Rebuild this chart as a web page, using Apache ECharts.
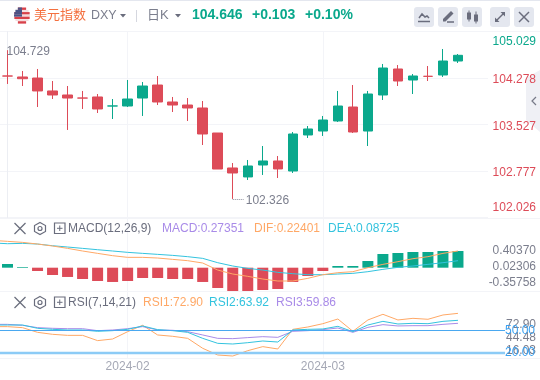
<!DOCTYPE html>
<html>
<head>
<meta charset="utf-8">
<style>
  html, body { margin: 0; padding: 0; background: #fff; }
  #chart { width: 540px; height: 380px; }
</style>
<script src="https://cdn.jsdelivr.net/npm/echarts@6/dist/echarts.min.js"></script>
</head>
<body>
<div id="chart"></div>
<script>
// open, close, low, high
var candles = [
  [104.312, 104.311, 104.183, 104.729],
  [104.296, 104.268, 104.150, 104.393],
  [104.279, 104.070, 103.811, 104.425],
  [104.070, 104.005, 103.940, 104.231],
  [104.005, 103.956, 103.440, 104.150],
  [103.956, 103.955, 103.779, 104.070],
  [103.973, 103.779, 103.714, 104.021],
  [103.827, 103.828, 103.617, 103.940],
  [103.827, 103.940, 103.811, 104.247],
  [103.956, 104.150, 103.666, 104.215],
  [104.166, 103.892, 103.843, 104.312],
  [103.892, 103.843, 103.730, 103.973],
  [103.843, 103.795, 103.585, 103.956],
  [103.795, 103.375, 103.197, 103.908],
  [103.391, 102.809, 102.809, 103.391],
  [102.826, 102.745, 102.326, 102.906],
  [102.681, 102.858, 102.632, 102.955],
  [102.874, 102.939, 102.713, 103.181],
  [102.939, 102.810, 102.664, 103.019],
  [102.777, 103.375, 102.745, 103.407],
  [103.359, 103.456, 103.310, 103.504],
  [103.423, 103.601, 103.343, 103.666],
  [103.585, 103.827, 103.569, 104.070],
  [103.811, 103.407, 103.391, 104.166],
  [103.423, 104.021, 103.181, 104.070],
  [104.005, 104.441, 103.924, 104.506],
  [104.425, 104.231, 104.150, 104.489],
  [104.247, 104.312, 104.021, 104.344],
  [104.307, 104.306, 104.231, 104.473],
  [104.328, 104.554, 104.296, 104.748],
  [104.554, 104.646, 104.522, 104.667]
];
var macdBars = [0.088, 0.017, -0.079, -0.174, -0.221, -0.269, -0.317, -0.340, -0.317, -0.245, -0.245, -0.269, -0.269, -0.340, -0.483, -0.555, -0.555, -0.531, -0.507, -0.340, -0.198, -0.079, 0.040, 0.040, 0.159, 0.326, 0.350, 0.374, 0.374, 0.397, 0.397];
// line arrays start one day before the first candle, it gets clipped at the left edge
var difLine = [0.650, 0.627, 0.603, 0.563, 0.516, 0.460, 0.397, 0.341, 0.286, 0.246, 0.246, 0.230, 0.198, 0.167, 0.111, -0.056, -0.151, -0.206, -0.270, -0.317, -0.317, -0.254, -0.167, -0.119, -0.095, 0, 0.079, 0.143, 0.214, 0.262, 0.341, 0.397];
var deaLine = [0.590, 0.571, 0.579, 0.563, 0.523, 0.492, 0.460, 0.428, 0.397, 0.365, 0.341, 0.317, 0.293, 0.262, 0.222, 0.119, 0.040, -0.016, -0.056, -0.111, -0.143, -0.167, -0.167, -0.151, -0.135, -0.095, -0.040, 0.008, 0.040, 0.079, 0.119, 0.167];
var rsi1 = [55.5, 55.5, 54.1, 47.7, 45.0, 43.6, 43.6, 36.4, 38.6, 48.6, 57.3, 44.1, 42.3, 39.5, 25.9, 16.8, 15.4, 22.7, 28.2, 25.0, 51.8, 55.0, 59.5, 65.9, 49.1, 64.6, 72.3, 64.6, 66.8, 65.5, 71.4, 73.6];
var rsi2 = [57.7, 57.7, 57.7, 53.2, 51.8, 50.9, 50.9, 49.1, 50.0, 51.8, 56.4, 51.4, 50.0, 47.7, 39.5, 32.7, 31.8, 33.6, 35.9, 34.5, 50.9, 51.8, 52.3, 55.9, 48.6, 57.7, 62.7, 59.1, 60.0, 59.5, 62.7, 64.1];
var rsi3 = [58.6, 58.6, 57.3, 54.1, 53.2, 52.7, 52.7, 50.0, 50.9, 52.7, 55.5, 50.9, 50.5, 48.6, 44.1, 39.5, 39.1, 40.5, 41.8, 40.9, 49.1, 50.0, 51.4, 53.6, 47.7, 54.5, 58.2, 56.4, 56.8, 56.8, 58.6, 60.0];

var priceTicks = [102.026, 102.777, 103.527, 104.278, 105.029];
var macdTicks = [-0.35758, 0.02306, 0.40370];
var rsiTicks = [16.03, 44.48, 72.90];
var dateTickIndex = [8, 21];
var dateTickLabels = ['2024-02', '2024-03'];
var lastPrice = 104.646;

var UP = '#0aa88c', DOWN = '#dd4b58', GRID = '#f3f4f8', GRAY = '#7b7e8d';
var ORANGE = '#ffa866', CYAN = '#33c3de', PURPLE = '#a98be8', BLUE = '#3aa0f0';
var FONT = '"Liberation Sans", "Noto Sans CJK SC", sans-serif';

function withIndex(arr, start) {
  return arr.map(function (v, i) { return [i + start, v]; });
}

function xAxis(gridIndex, max, labels) {
  return {
    type: 'value', gridIndex: gridIndex, min: -0.5, max: max,
    axisLine: { show: false },
    axisTick: { show: false, customValues: dateTickIndex },
    splitLine: { show: true, lineStyle: { color: GRID, width: 1 } },
    axisLabel: {
      show: labels, customValues: dateTickIndex, margin: 3,
      color: '#a5a8b5', fontSize: 12, fontFamily: FONT,
      formatter: function (v) { return dateTickLabels[dateTickIndex.indexOf(v)]; }
    }
  };
}

function text(x, y, str, color, size, weight) {
  return {
    type: 'text', x: x, y: y, z: 20,
    style: { text: str, fill: color, font: (weight || 'normal') + ' ' + size + 'px ' + FONT, verticalAlign: 'middle' }
  };
}
function stroke(shapeType, shape, color, width) {
  return { type: shapeType, shape: shape, z: 21, style: { stroke: color, lineWidth: width || 1.5, fill: null } };
}
function pts(list) { return { points: list }; }

var ICON = '#6a6d7d';
var graphics = [
  { type: 'rect', shape: { x: 0, y: 0, width: 540, height: 1 }, style: { fill: '#e4e7ef' } },
  { type: 'rect', shape: { x: 0, y: 31, width: 540, height: 1 }, style: { fill: GRID } },
  { type: 'rect', shape: { x: 0, y: 218, width: 540, height: 1 }, style: { fill: GRID } },
  { type: 'rect', shape: { x: 0, y: 291, width: 540, height: 1 }, style: { fill: GRID } },
  { type: 'rect', shape: { x: 0, y: 358, width: 540, height: 1 }, style: { fill: GRID } },
  // collapse tab on the right
  { type: 'polygon', z: -1, shape: pts([[540, 70], [526, 78], [526, 120], [540, 132]]), style: { fill: '#eff0f5' } },
  stroke('polyline', pts([[536, 97], [532, 101], [536, 105]]), '#777a88', 1.2),

  text(34, 15, '美元指数', '#f4703f', 13),
  text(91, 16, 'DXY', GRAY, 12.5),
  { type: 'polygon', shape: pts([[120, 14], [126, 14], [123, 17.5]]), style: { fill: ICON } },
  { type: 'rect', shape: { x: 136, y: 10, width: 1, height: 12 }, style: { fill: '#d5d7df' } },
  text(147, 15, '日K', GRAY, 13),
  { type: 'polygon', shape: pts([[175, 14], [181, 14], [178, 17.5]]), style: { fill: ICON } },
  text(192, 15, '104.646', UP, 14, 'bold'),
  text(252, 15, '+0.103', UP, 14, 'bold'),
  text(305, 15, '+0.10%', UP, 14, 'bold'),

  // MACD and RSI header rows
  text(68, 229, 'MACD(12,26,9)', ICON, 12),
  text(162, 229, 'MACD:0.27351', PURPLE, 12),
  text(254, 229, 'DIF:0.22401', ORANGE, 12),
  text(328, 229, 'DEA:0.08725', CYAN, 12),
  text(68, 303, 'RSI(7,14,21)', ICON, 12),
  text(143, 303, 'RSI1:72.90', ORANGE, 12),
  text(209, 303, 'RSI2:63.92', CYAN, 12),
  text(276, 303, 'RSI3:59.86', PURPLE, 12)
];

// round flag built from stripes
(function () {
  var cx = 22, cy = 15.5, r = 8;
  for (var i = 0; i < 7; i++) {
    var top = cy - r + i * 16 / 7;
    var mid = top + 8 / 7 - cy;
    var half = Math.sqrt(r * r - mid * mid);
    graphics.push({ type: 'rect', shape: { x: cx - half, y: top + (i % 2 ? 0.4 : 0), width: half * 2, height: i % 2 ? 1.6 : 2.4 }, style: { fill: i % 2 ? '#f4d9da' : '#d8414a' }, z: 5 });
    if (i < 4) graphics.push({ type: 'rect', shape: { x: cx - half, y: top, width: half, height: 16 / 7 }, style: { fill: '#4a5487' }, z: 6 });
  }
})();

// toolbar buttons
[414, 438, 462, 490, 514].forEach(function (x) {
  graphics.push({ type: 'rect', z: 10, shape: { x: x, y: 7, width: 20, height: 20, r: 3 }, style: { fill: '#e4e7ef' } });
});
graphics.push(
  stroke('polyline', pts([[419, 18], [422, 14], [425, 17], [427, 16], [429, 18]]), ICON),
  stroke('line', { x1: 418, y1: 21.5, x2: 430, y2: 21.5 }, ICON),
  { type: 'polygon', z: 21, shape: pts([[443, 19], [451, 11], [453.5, 13.5], [445.5, 21.5], [443, 21.5]]), style: { fill: ICON } },
  stroke('line', { x1: 447, y1: 22, x2: 454, y2: 22 }, ICON),
  { type: 'rect', z: 21, shape: { x: 467, y: 12.5, width: 4, height: 7 }, style: { fill: ICON } },
  { type: 'rect', z: 21, shape: { x: 474, y: 14.5, width: 4, height: 7 }, style: { fill: ICON } },
  stroke('line', { x1: 469, y1: 10.5, x2: 469, y2: 21.5 }, ICON, 1),
  stroke('line', { x1: 476, y1: 11.5, x2: 476, y2: 23.5 }, ICON, 1),
  stroke('line', { x1: 496, y1: 21, x2: 504, y2: 13 }, ICON),
  { type: 'polygon', z: 21, shape: pts([[500.5, 12], [505, 12], [505, 16.5]]), style: { fill: ICON } },
  { type: 'polygon', z: 21, shape: pts([[495, 17.5], [495, 22], [499.5, 22]]), style: { fill: ICON } },
  stroke('line', { x1: 519, y1: 12, x2: 529, y2: 22 }, ICON),
  stroke('line', { x1: 529, y1: 12, x2: 519, y2: 22 }, ICON)
);

// close, settings and expand icons of the two lower panels
[229, 303].forEach(function (y) {
  graphics.push(
    stroke('line', { x1: 14.5, y1: y - 6, x2: 25.5, y2: y + 5 }, ICON, 1.2),
    stroke('line', { x1: 25.5, y1: y - 6, x2: 14.5, y2: y + 5 }, ICON, 1.2),
    stroke('polygon', pts([[40, y - 6.5], [45.5, y - 3.5], [45.5, y + 2.5], [40, y + 5.5], [34.5, y + 2.5], [34.5, y - 3.5]]), ICON, 1.2),
    stroke('circle', { cx: 40, cy: y - 0.5, r: 2 }, ICON, 1.2),
    stroke('rect', { x: 54.5, y: y - 6, width: 10.5, height: 10.5 }, ICON, 1.2),
    stroke('line', { x1: 57, y1: y - 0.7, x2: 62.5, y2: y - 0.7 }, ICON, 1),
    stroke('line', { x1: 59.75, y1: y - 3.5, x2: 59.75, y2: y + 2 }, ICON, 1)
  );
});

var chart = echarts.init(document.getElementById('chart'));
chart.setOption({
  animation: false,
  graphic: graphics,
  grid: [
    { left: 0, top: 31.6, width: 488, height: 185.9 },
    { left: 0, top: 218, width: 488, height: 73 },
    { left: 0, top: 291, width: 505, height: 67 }
  ],
  xAxis: [xAxis(0, 32, false), xAxis(1, 32, false), xAxis(2, 33.13, true)],
  yAxis: [
    {
      type: 'value', gridIndex: 0, position: 'right', min: 102.026, max: 105.029,
      axisLine: { show: true, lineStyle: { color: '#eceef3' } },
      axisTick: { show: false, customValues: priceTicks },
      splitLine: { show: true, lineStyle: { color: GRID } },
      axisLabel: {
        customValues: priceTicks, margin: 48, align: 'right', fontSize: 12, fontFamily: FONT,
        padding: [4, 0, 0, 0],
        verticalAlignMinLabel: 'bottom', verticalAlignMaxLabel: 'top',
        color: function (v) { return v > lastPrice ? UP : DOWN; },
        formatter: function (v) {
          // lowest label sits a bit higher than the bottom edge
          return v === priceTicks[0] ? '{low|' + v.toFixed(3) + '}' : v.toFixed(3);
        },
        rich: { low: { color: DOWN, fontSize: 12, fontFamily: FONT, padding: [0, 0, 4, 0] } }
      }
    },
    {
      type: 'value', gridIndex: 1, position: 'right', min: -0.555, max: 1.183,
      axisLine: { show: false }, splitLine: { show: false },
      axisTick: { show: false, customValues: macdTicks },
      axisLabel: {
        customValues: macdTicks, margin: 48, align: 'right', color: GRAY, fontSize: 12, fontFamily: FONT,
        padding: [3, 0, 0, 0],
        formatter: function (v) { return v.toFixed(5); }
      }
    },
    {
      type: 'value', gridIndex: 2, position: 'right', min: 12.7, max: 104.1,
      axisLine: { show: false }, splitLine: { show: false }, axisTick: { show: false }, axisLabel: { show: false }
    },
    {
      // the gray RSI labels sit on their own scale in the source chart
      type: 'value', gridIndex: 2, position: 'right', min: 0.72, max: 147.3,
      axisLine: { show: false }, splitLine: { show: false },
      axisTick: { show: false, customValues: rsiTicks },
      axisLabel: {
        customValues: rsiTicks, margin: 31, align: 'right', color: GRAY, fontSize: 12, fontFamily: FONT,
        padding: [3, 0, 0, 0],
        formatter: function (v) { return v.toFixed(2); }
      }
    }
  ],
  series: [
    {
      type: 'candlestick', xAxisIndex: 0, yAxisIndex: 0,
      data: candles.map(function (c, i) { return [i].concat(c); }),
      encode: { x: 0, y: [1, 2, 3, 4] },
      barWidth: 10,
      itemStyle: { color: UP, color0: DOWN, borderColor: UP, borderColor0: DOWN, borderWidth: 1 },
      markPoint: {
        symbol: 'circle', symbolSize: 0, silent: true,
        label: { show: true, position: 'right', color: GRAY, fontSize: 12, fontFamily: FONT },
        data: [
          { coord: [0, 104.729], value: 104.729, label: { formatter: '104.729', offset: [-6, 2] } },
          { coord: [15, 102.326], value: 102.326, label: { formatter: '102.326', offset: [8, 2] } }
        ]
      },
      markLine: {
        symbol: 'none', silent: true, label: { show: false },
        lineStyle: { color: '#8a8d9b', type: 'dotted', width: 1 },
        data: [[{ coord: [15, 102.326] }, { coord: [15.72, 102.326] }]]
      }
    },
    {
      type: 'bar', xAxisIndex: 1, yAxisIndex: 1, barWidth: 11,
      data: withIndex(macdBars, 0),
      itemStyle: { color: function (p) { return p.value[1] >= 0 ? UP : DOWN; } }
    },
    {
      type: 'line', xAxisIndex: 1, yAxisIndex: 1, data: withIndex(deaLine, -1),
      symbol: 'none', lineStyle: { color: CYAN, width: 1 }, z: 3
    },
    {
      type: 'line', xAxisIndex: 1, yAxisIndex: 1, data: withIndex(difLine, -1),
      symbol: 'none', lineStyle: { color: ORANGE, width: 1 }, z: 3
    },
    {
      type: 'line', xAxisIndex: 2, yAxisIndex: 2, data: withIndex(rsi1, -1),
      symbol: 'none', lineStyle: { color: ORANGE, width: 1 }, z: 3
    },
    {
      type: 'line', xAxisIndex: 2, yAxisIndex: 2, data: withIndex(rsi3, -1),
      symbol: 'none', lineStyle: { color: PURPLE, width: 1 }, z: 3
    },
    {
      type: 'line', xAxisIndex: 2, yAxisIndex: 2, data: withIndex(rsi2, -1),
      symbol: 'none', lineStyle: { color: CYAN, width: 1 }, z: 3,
      markLine: {
        symbol: 'none', silent: true,
        label: { position: 'end', distance: 0, color: BLUE, fontSize: 12, fontFamily: FONT, padding: [3, 0, 0, 0], formatter: function (p) { return p.value.toFixed(2); } },
        data: [
          { yAxis: 50, lineStyle: { color: '#4aa8f0', width: 1.2, type: 'solid' } },
          { yAxis: 20, lineStyle: { color: '#8ccbf6', width: 2.4, type: 'solid' } }
        ]
      }
    }
  ]
});
</script>
</body>
</html>
